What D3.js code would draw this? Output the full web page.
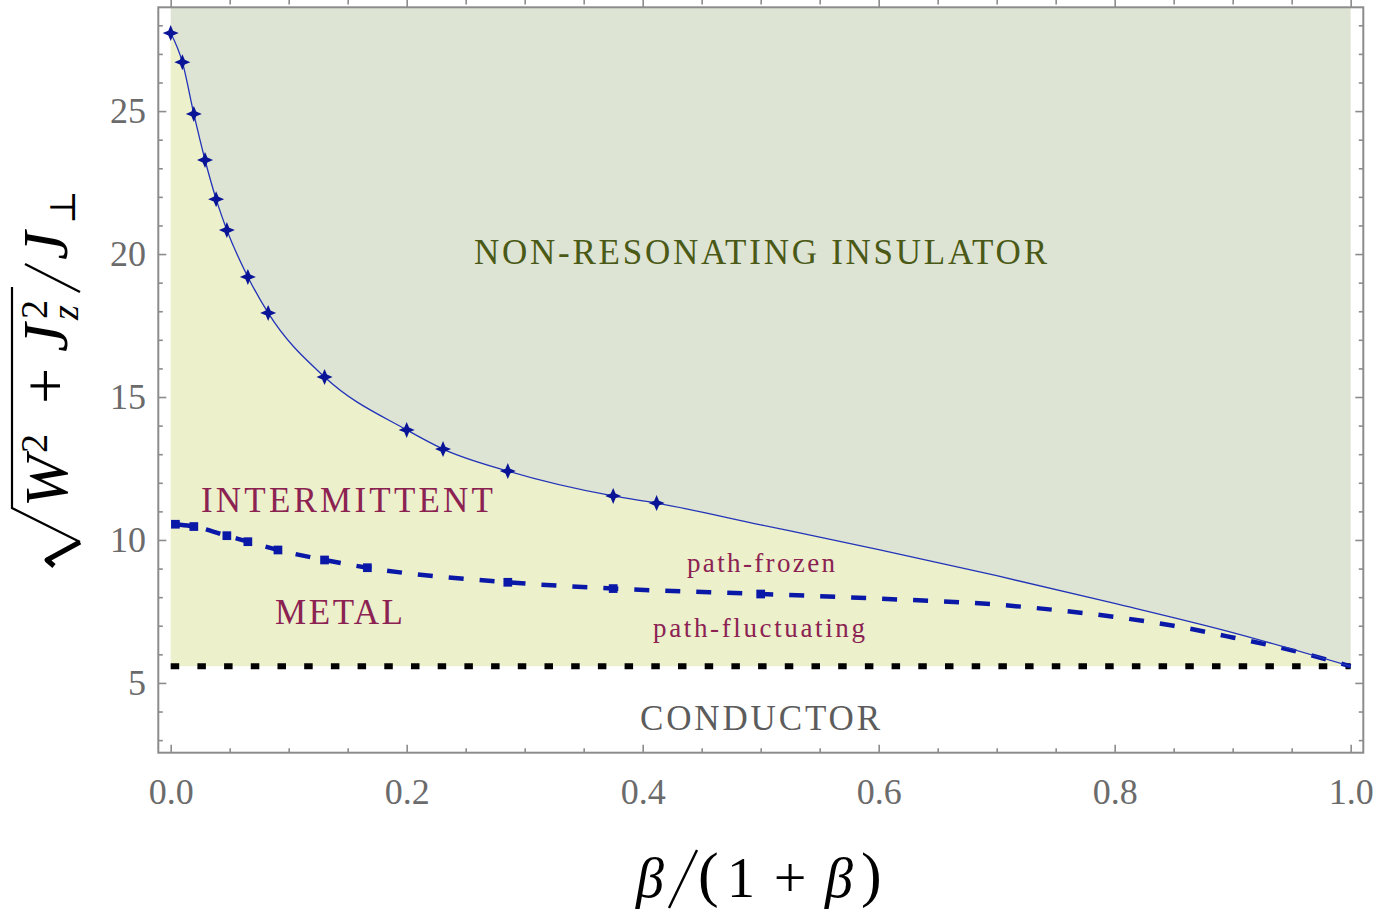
<!DOCTYPE html>
<html>
<head>
<meta charset="utf-8">
<script src="https://cdn.jsdelivr.net/npm/d3@7"></script>
<style>
  body { margin: 0; background: #fff; }
  svg { display: block; }
  text { font-family: "Liberation Serif", "DejaVu Serif", serif; }
</style>
</head>
<body>
<svg id="chart" width="1388" height="922"></svg>
<script>
// boundary between metal and non-resonating insulator (stars), x = beta/(1+beta)
var insulatorX = [0, 0.0099, 0.0196, 0.0291, 0.0385, 0.0476, 0.0654, 0.0826, 0.1304, 0.2, 0.2308, 0.2857, 0.375, 0.4118];
var insulatorY = [27.73, 26.71, 24.90, 23.29, 21.92, 20.84, 19.20, 17.94, 15.70, 13.85, 13.18, 12.41, 11.54, 11.29];
// continuation of that boundary without markers
var insulatorTailX = [0.5, 0.6, 0.7, 0.8, 0.9, 1.0];
var insulatorTailY = [10.53, 9.66, 8.75, 7.78, 6.76, 5.58];

// path-frozen / path-fluctuating crossover (squares)
var frozenX = [0.004, 0.0196, 0.0476, 0.0654, 0.0909, 0.1304, 0.1667, 0.2857, 0.375, 0.5];
var frozenY = [10.55, 10.47, 10.15, 9.94, 9.65, 9.30, 9.03, 8.52, 8.30, 8.11];
var frozenTailX = [0.6, 0.7, 0.75, 0.8, 0.85, 0.9, 0.95, 1.0];
var frozenTailY = [7.95, 7.74, 7.55, 7.31, 7.00, 6.59, 6.14, 5.58];

// conductor threshold (dotted)
var conductorLevel = 5.58;

var xMajorTicks = [0, 0.2, 0.4, 0.6, 0.8, 1.0];
var xTickLabels = ["0.0", "0.2", "0.4", "0.6", "0.8", "1.0"];
var yMajorTicks = [5, 10, 15, 20, 25];
var yTickLabels = ["5", "10", "15", "20", "25"];

var svg = d3.select("#chart");
var x = d3.scaleLinear().domain([-0.0105, 1.0107]).range([158.3, 1363.3]);
var y = d3.scaleLinear().domain([2.56, 28.63]).range([752.7, 7.3]);

function zip(xs, ys) {
    return xs.map(function (v, i) { return { x: v, y: ys[i] }; });
}
var insulatorPts = zip(insulatorX, insulatorY);
var insulatorLine = insulatorPts.concat(zip(insulatorTailX, insulatorTailY));
var frozenPts = zip(frozenX, frozenY);
var frozenLine = frozenPts.concat(zip(frozenTailX, frozenTailY));

var curve = d3.curveMonotoneX;

// region fills
svg.append("path").datum(insulatorLine)
    .attr("fill", "#dee4d4")
    .attr("d", d3.area().curve(curve)
        .x(function (d) { return x(d.x); })
        .y0(y(y.domain()[1]))
        .y1(function (d) { return y(d.y); }));
svg.append("path").datum(insulatorLine)
    .attr("fill", "#ecf0cb")
    .attr("d", d3.area().curve(curve)
        .x(function (d) { return x(d.x); })
        .y0(y(conductorLevel))
        .y1(function (d) { return y(d.y); }));

// dotted conductor line
svg.append("line")
    .attr("x1", x(0)).attr("x2", x(1))
    .attr("y1", y(conductorLevel)).attr("y2", y(conductorLevel))
    .attr("stroke", "#000").attr("stroke-width", 6)
    .attr("stroke-dasharray", "8.5 18.2");

var line = d3.line().curve(curve)
    .x(function (d) { return x(d.x); })
    .y(function (d) { return y(d.y); });

// dashed crossover
svg.append("path").datum(frozenLine)
    .attr("fill", "none").attr("stroke", "#0a18a8")
    .attr("stroke-width", 4.5).attr("stroke-dasharray", "15 16")
    .attr("d", line);
svg.append("g").selectAll("path").data(frozenPts).enter().append("path")
    .attr("transform", function (d) { return "translate(" + x(d.x) + "," + y(d.y) + ")"; })
    .attr("fill", "#0a18a8")
    .attr("d", d3.symbol().type(d3.symbolSquare).size(76));

// solid boundary
svg.append("path").datum(insulatorLine)
    .attr("fill", "none").attr("stroke", "#2233b8").attr("stroke-width", 1.3)
    .attr("d", line);
var star4 = {
    draw: function (ctx, size) {
        var r = Math.sqrt(size), w = r * 0.3;
        ctx.moveTo(0, -r); ctx.lineTo(w, -w); ctx.lineTo(r, 0); ctx.lineTo(w, w);
        ctx.lineTo(0, r); ctx.lineTo(-w, w); ctx.lineTo(-r, 0); ctx.lineTo(-w, -w);
        ctx.closePath();
    }
};
svg.append("g").selectAll("path").data(insulatorPts).enter().append("path")
    .attr("transform", function (d) { return "translate(" + x(d.x) + "," + y(d.y) + ")"; })
    .attr("fill", "#0a1496")
    .attr("d", d3.symbol().type(star4).size(64));

// region labels
function label(txt, px, py, size, color, len) {
    var t = svg.append("text").attr("x", px).attr("y", py)
        .attr("font-size", size).attr("fill", color).text(txt);
    if (len) t.attr("textLength", len).attr("lengthAdjust", "spacing");
    return t;
}
label("NON-RESONATING INSULATOR", 474, 264, 35, "#4a5a16", 573);
label("INTERMITTENT", 201, 512, 35, "#8b2252", 292);
label("METAL", 275, 624, 35, "#8b2252", 128);
label("path-frozen", 687, 572, 27, "#8b2252", 148);
label("path-fluctuating", 653, 637, 27, "#8b2252", 212);
label("CONDUCTOR", 640, 730, 35, "#5c5c5c", 240);

// frame and ticks
var frameColor = "#8c8c8c";
svg.append("rect")
    .attr("x", x.range()[0]).attr("y", y.range()[1])
    .attr("width", x.range()[1] - x.range()[0])
    .attr("height", y.range()[0] - y.range()[1])
    .attr("fill", "none").attr("stroke", frameColor).attr("stroke-width", 2);

var xMinor = d3.range(0, 1.0001, 0.05).filter(function (v) { return Math.abs(v * 5 - Math.round(v * 5)) > 1e-6; });
var yMinor = d3.range(3, 29, 1).filter(function (v) { return v % 5 !== 0; });

function styleAxis(g) {
    g.select(".domain").remove();
    g.selectAll(".tick line").attr("stroke", frameColor).attr("stroke-width", 1.6);
    g.selectAll("text").attr("fill", "#6b6b6b").attr("font-family", "Liberation Serif")
        .attr("font-size", 36);
}
var bottom = y.range()[0], top = y.range()[1], left = x.range()[0], right = x.range()[1];

svg.append("g").attr("transform", "translate(0," + bottom + ")")
    .call(d3.axisBottom(x).tickValues(xMajorTicks).tickSize(-8).tickPadding(25.7)
        .tickFormat(function (d, i) { return xTickLabels[i]; }))
    .call(styleAxis);
svg.append("g").attr("transform", "translate(0," + bottom + ")")
    .call(d3.axisBottom(x).tickValues(xMinor).tickSize(-4.5).tickFormat(""))
    .call(styleAxis);
svg.append("g").attr("transform", "translate(0," + top + ")")
    .call(d3.axisTop(x).tickValues(xMajorTicks).tickSize(-8).tickFormat(""))
    .call(styleAxis);
svg.append("g").attr("transform", "translate(0," + top + ")")
    .call(d3.axisTop(x).tickValues(xMinor).tickSize(-4.5).tickFormat(""))
    .call(styleAxis);

svg.append("g").attr("transform", "translate(" + left + ",0)")
    .call(d3.axisLeft(y).tickValues(yMajorTicks).tickSize(-8).tickPadding(12.3)
        .tickFormat(function (d, i) { return yTickLabels[i]; }))
    .call(styleAxis);
svg.append("g").attr("transform", "translate(" + left + ",0)")
    .call(d3.axisLeft(y).tickValues(yMinor).tickSize(-4.5).tickFormat(""))
    .call(styleAxis);
svg.append("g").attr("transform", "translate(" + right + ",0)")
    .call(d3.axisRight(y).tickValues(yMajorTicks).tickSize(-8).tickFormat(""))
    .call(styleAxis);
svg.append("g").attr("transform", "translate(" + right + ",0)")
    .call(d3.axisRight(y).tickValues(yMinor).tickSize(-4.5).tickFormat(""))
    .call(styleAxis);

// axis titles, built glyph by glyph to mimic the typeset formula
function piece(g, txt, px, py, size, italic, anchor) {
    return g.append("text").attr("x", px).attr("y", py).attr("font-size", size)
        .attr("font-style", italic ? "italic" : "normal")
        .attr("text-anchor", anchor || "start").attr("fill", "#000").text(txt);
}
function slash(g, x1, y1, x2, y2) {
    g.append("line").attr("x1", x1).attr("y1", y1).attr("x2", x2).attr("y2", y2)
        .attr("stroke", "#000").attr("stroke-width", 2.4);
}
var xt = svg.append("g");
piece(xt, "\u03b2", 636, 897, 56, true);
slash(xt, 669, 908, 697, 850);
piece(xt, "(", 698, 895, 62, false);
piece(xt, "1", 727, 897, 56, false);
piece(xt, "+", 790, 897, 58, false, "middle");
piece(xt, "\u03b2", 825, 897, 56, true);
piece(xt, ")", 861, 895, 62, false);

var yt = svg.append("g").attr("transform", "translate(67,0) rotate(-90)");
yt.append("path").attr("d", "M-566,-13 L-560,-20 L-542,13")
    .attr("fill", "none").attr("stroke", "#000").attr("stroke-width", 5).attr("stroke-linejoin", "round");
yt.append("path").attr("d", "M-542,13 L-508,-55 L-287,-55")
    .attr("fill", "none").attr("stroke", "#000").attr("stroke-width", 2.2);
piece(yt, "W", -507, 0, 62, true);
piece(yt, "2", -453, -20, 38, false);
piece(yt, "+", -386, 0, 64, false, "middle");
piece(yt, "J", -352, 0, 64, true);
piece(yt, "2", -319, -20, 38, false);
piece(yt, "z", -320, 11, 38, true);
slash(yt, -292, 13, -264, -42);
piece(yt, "J", -260, 0, 64, true);
yt.append("text").attr("x", -224).attr("y", 8).attr("font-size", 36)
    .attr("font-family", "DejaVu Serif").text("\u22a5");
</script>
</body>
</html>
